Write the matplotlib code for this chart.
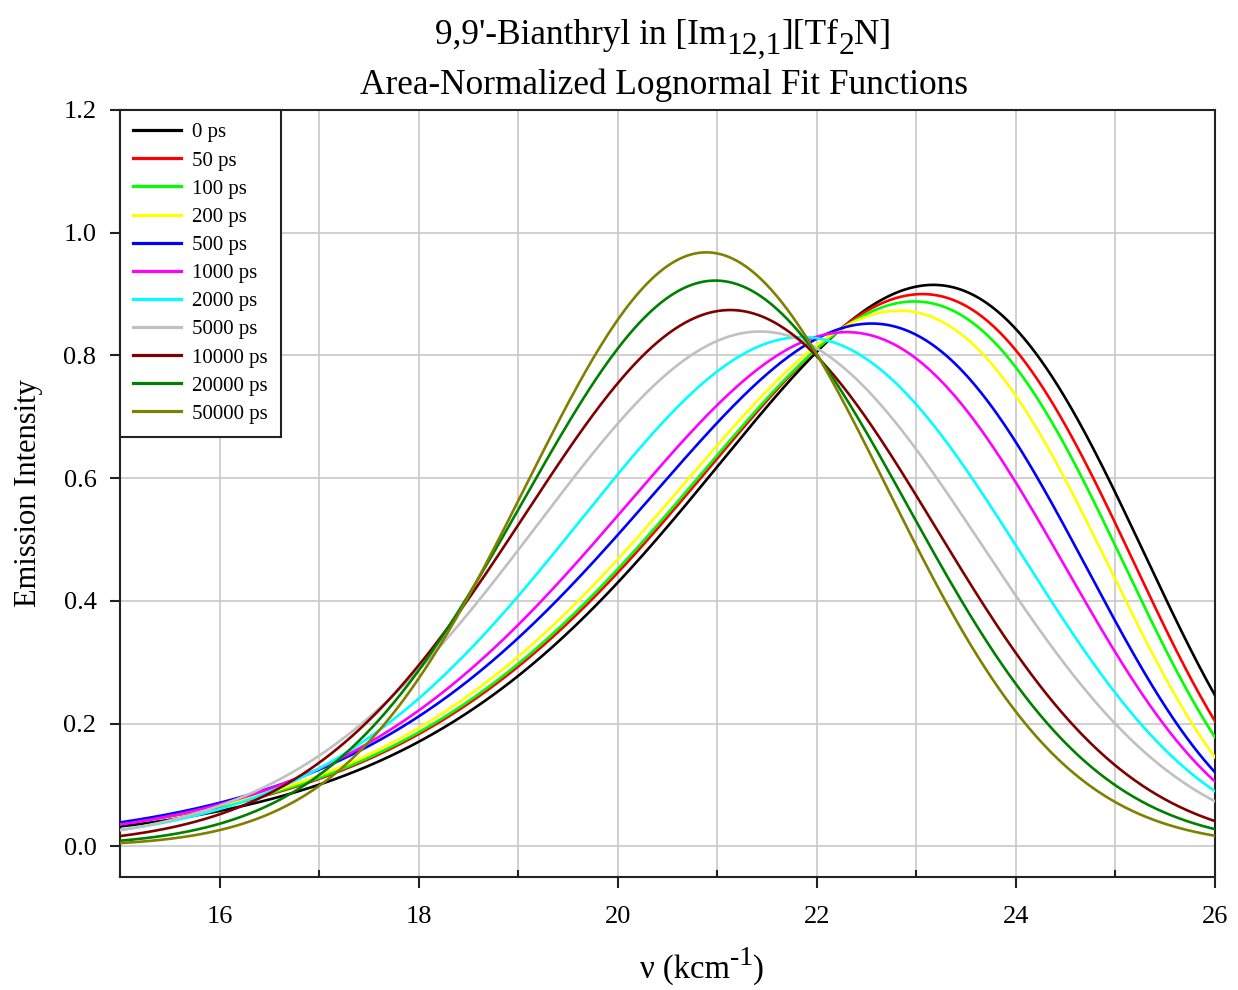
import matplotlib
matplotlib.use("Agg")
import matplotlib.pyplot as plt
import numpy as np
from matplotlib.ticker import MultipleLocator, FormatStrFormatter

plt.rcParams["font.family"] = ["Liberation Serif", "DejaVu Serif"]

W, H = 1238, 990

# ----------- lognormal fit parameters -----------
delays = ["0 ps", "50 ps", "100 ps", "200 ps", "500 ps", "1000 ps",
          "2000 ps", "5000 ps", "10000 ps", "20000 ps", "50000 ps"]
colors = ["#000000", "#ff0000", "#00ff00", "#ffff00", "#0000ff", "#ff00ff",
          "#00ffff", "#c0c0c0", "#800000", "#008000", "#808000"]
peak_pos = [23.17, 23.06, 22.98, 22.83, 22.55, 22.30, 21.85, 21.43, 21.13, 20.98, 20.89]
peak_height = [0.915, 0.900, 0.888, 0.873, 0.852, 0.838, 0.830, 0.839, 0.874, 0.922, 0.968]
width = [5.10, 5.10, 5.08, 5.08, 5.19, 5.23, 5.24, 5.25, 4.86, 4.545, 4.265]
asym = [-0.325, -0.34, -0.34, -0.33, -0.29, -0.24, -0.14, -0.08, -0.045, -0.015, -0.005]

nu = np.linspace(15, 26, 600)


def lognormal(x, h, nup, d, g):
    a = 2 * g * (x - nup) / d
    out = np.zeros_like(x)
    ok = a > -1
    out[ok] = h * np.exp(-np.log(2) * (np.log1p(a[ok]) / g) ** 2)
    return out


def mixed_text(fig, xc, baseline, pieces, size):
    # pieces: (text, relative size, vertical shift in px, + = down)
    r = fig.canvas.get_renderer()
    objs = []
    for txt, rel, dy in pieces:
        t = fig.text(0, 0, txt, fontsize=size * rel, va="baseline", ha="left")
        objs.append((t, t.get_window_extent(r).width, dy))
    x = xc - sum(o[1] for o in objs) / 2
    for t, w, dy in objs:
        t.set_position((x / W, 1 - (baseline + dy) / H))
        x += w


fig = plt.figure(figsize=(W / 100, H / 100), dpi=100)
ax = fig.add_axes([120 / W, 1 - 877 / H, (1215 - 120) / W, (877 - 110) / H])

for lab, col, p, h, d, g in zip(delays, colors, peak_pos, peak_height, width, asym):
    ax.plot(nu, lognormal(nu, h, p, d, g), color=col, lw=1.9, label=lab, zorder=3)

ax.set_xlim(15, 26)
ax.set_ylim(-0.05, 1.2)
ax.xaxis.set_major_locator(MultipleLocator(2))
ax.xaxis.set_minor_locator(MultipleLocator(1))
ax.yaxis.set_major_locator(MultipleLocator(0.2))
ax.yaxis.set_major_formatter(FormatStrFormatter("%.1f"))
ax.set_xticks([16, 18, 20, 22, 24, 26])

ax.grid(which="major", axis="y", color="#c8c8c8", lw=1.2, zorder=0)
ax.grid(which="both", axis="x", color="#c8c8c8", lw=1.2, zorder=0)
ax.set_axisbelow(True)

for s in ax.spines.values():
    s.set_color("#222222")
    s.set_linewidth(1.5)

ax.tick_params(axis="x", which="major", direction="out", length=8, width=1.5,
               pad=13, labelsize=19, color="#222222")
ax.tick_params(axis="x", which="minor", direction="in", length=5, width=1.5,
               color="#222222")
ax.tick_params(axis="y", which="major", direction="out", length=7, width=1.5,
               pad=10, labelsize=19, color="#222222")

ax.set_ylabel("Emission Intensity", fontsize=22, va="center")
ax.yaxis.set_label_coords((29 - 120) / 1095, 0.5)

mixed_text(fig, 663, 44, [("9,9'-Bianthryl in [Im", 1, 0), ("12,1", 0.9, 10),
                          ("][Tf", 1, 0), ("2", 0.9, 10), ("N]", 1, 0)], 25.4)
mixed_text(fig, 664, 94, [("Area-Normalized Lognormal Fit Functions", 1, 0)], 25.4)
mixed_text(fig, 702, 978, [("ν (kcm", 1, 0), ("-1", 0.85, -13), (")", 1, 0)], 23.5)

leg = ax.legend(loc="upper left", bbox_to_anchor=(0, 1), borderaxespad=0,
                fontsize=15, handlelength=2.3, handletextpad=0.55,
                labelspacing=0.41, borderpad=0.62, fancybox=False,
                framealpha=1, edgecolor="#222222")
leg.get_frame().set_linewidth(1.5)
for line in leg.get_lines():
    line.set_linewidth(2.3)

fig.savefig("out.png", dpi=100)
